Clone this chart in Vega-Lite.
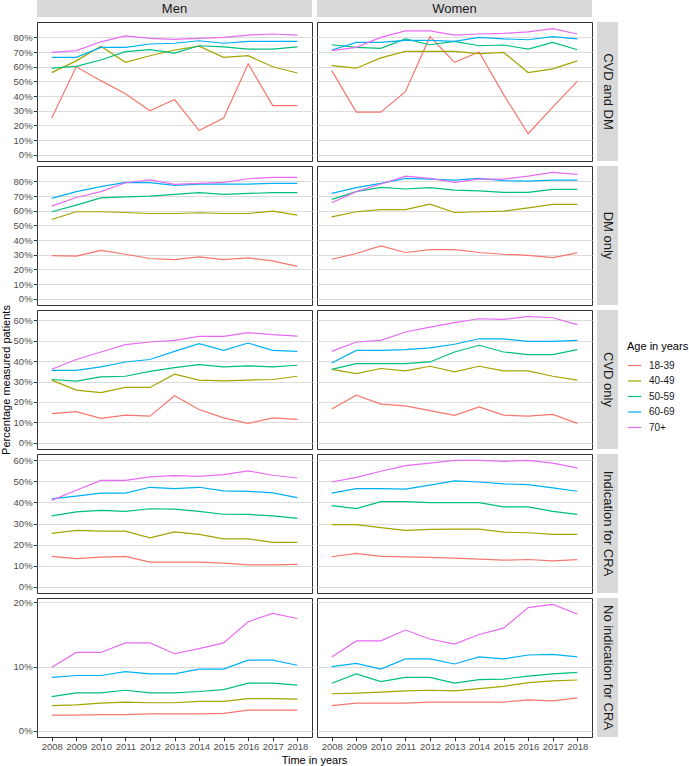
{
  "$schema": "https://vega.github.io/schema/vega-lite/v6.json",
  "padding": {"left": 0, "top": 0, "right": 0, "bottom": 0},
  "background": "white",
  "bounds": "flush",
  "align": "each",
  "columns": 3,
  "spacing": {"row": 5, "column": 5},
  "resolve": {"scale": {"color": "shared"}},
  "config": {
    "font": "Liberation Sans",
    "view": {"stroke": "#333333", "strokeWidth": 1},
    "line": {"strokeWidth": 1.2},
    "range": {"category": ["#F8766D", "#A3A500", "#00BF7D", "#00B0F6", "#E76BF3"]},
    "axis": {
      "domain": false,
      "gridColor": "#dcdcdc",
      "gridWidth": 1,
      "tickColor": "#333333",
      "tickSize": 3.7,
      "labelColor": "#4d4d4d",
      "labelFontSize": 9.5,
      "labelPadding": 1.2,
      "labelOverlap": false,
      "labelFlush": false,
      "titleColor": "#000000",
      "titleFontWeight": "normal",
      "titleFontSize": 11,
      "titlePadding": 1.5
    },
    "legend": {
      "orient": "none",
      "legendX": 590,
      "legendY": 341,
      "titleFontSize": 11,
      "titleFontWeight": "normal",
      "titleColor": "#000000",
      "titlePadding": 6,
      "labelFontSize": 10,
      "labelColor": "#1a1a1a",
      "labelOffset": 7,
      "symbolSize": 180,
      "symbolStrokeWidth": 1.3,
      "rowPadding": 2.5
    }
  },
  "datasets": {
    "m1": [
      {"age":"18-39","year":2008,"pct":25},{"age":"18-39","year":2009,"pct":60},{"age":"18-39","year":2010,"pct":50.5},{"age":"18-39","year":2011,"pct":41.5},{"age":"18-39","year":2012,"pct":30},{"age":"18-39","year":2013,"pct":37.6},{"age":"18-39","year":2014,"pct":16.5},{"age":"18-39","year":2015,"pct":25},{"age":"18-39","year":2016,"pct":62},{"age":"18-39","year":2017,"pct":33.5},{"age":"18-39","year":2018,"pct":33.5},
      {"age":"40-49","year":2008,"pct":56},{"age":"40-49","year":2009,"pct":64},{"age":"40-49","year":2010,"pct":74},{"age":"40-49","year":2011,"pct":63},{"age":"40-49","year":2012,"pct":67.5},{"age":"40-49","year":2013,"pct":71.4},{"age":"40-49","year":2014,"pct":74},{"age":"40-49","year":2015,"pct":66.4},{"age":"40-49","year":2016,"pct":67.5},{"age":"40-49","year":2017,"pct":60},{"age":"40-49","year":2018,"pct":55.7},
      {"age":"50-59","year":2008,"pct":59},{"age":"50-59","year":2009,"pct":60.3},{"age":"50-59","year":2010,"pct":64.6},{"age":"50-59","year":2011,"pct":70.3},{"age":"50-59","year":2012,"pct":71.6},{"age":"50-59","year":2013,"pct":69.3},{"age":"50-59","year":2014,"pct":74.3},{"age":"50-59","year":2015,"pct":73.6},{"age":"50-59","year":2016,"pct":72},{"age":"50-59","year":2017,"pct":72},{"age":"50-59","year":2018,"pct":73.6},
      {"age":"60-69","year":2008,"pct":66.4},{"age":"60-69","year":2009,"pct":66.4},{"age":"60-69","year":2010,"pct":73.2},{"age":"60-69","year":2011,"pct":73.2},{"age":"60-69","year":2012,"pct":75.5},{"age":"60-69","year":2013,"pct":76},{"age":"60-69","year":2014,"pct":77.7},{"age":"60-69","year":2015,"pct":76},{"age":"60-69","year":2016,"pct":77.3},{"age":"60-69","year":2017,"pct":77.3},{"age":"60-69","year":2018,"pct":77.3},
      {"age":"70+","year":2008,"pct":69.8},{"age":"70+","year":2009,"pct":71},{"age":"70+","year":2010,"pct":77},{"age":"70+","year":2011,"pct":81},{"age":"70+","year":2012,"pct":79.3},{"age":"70+","year":2013,"pct":78.6},{"age":"70+","year":2014,"pct":79.3},{"age":"70+","year":2015,"pct":80},{"age":"70+","year":2016,"pct":81.6},{"age":"70+","year":2017,"pct":82.3},{"age":"70+","year":2018,"pct":81.6}
    ],
    "w1": [
      {"age":"18-39","year":2008,"pct":57.3},{"age":"18-39","year":2009,"pct":29},{"age":"18-39","year":2010,"pct":29},{"age":"18-39","year":2011,"pct":43},{"age":"18-39","year":2012,"pct":80.5},{"age":"18-39","year":2013,"pct":63},{"age":"18-39","year":2014,"pct":70},{"age":"18-39","year":2015,"pct":41},{"age":"18-39","year":2016,"pct":14.3},{"age":"18-39","year":2017,"pct":32.4},{"age":"18-39","year":2018,"pct":50},
      {"age":"40-49","year":2008,"pct":60.7},{"age":"40-49","year":2009,"pct":59},{"age":"40-49","year":2010,"pct":66},{"age":"40-49","year":2011,"pct":70.5},{"age":"40-49","year":2012,"pct":70.5},{"age":"40-49","year":2013,"pct":70.5},{"age":"40-49","year":2014,"pct":69},{"age":"40-49","year":2015,"pct":69.8},{"age":"40-49","year":2016,"pct":56},{"age":"40-49","year":2017,"pct":58.5},{"age":"40-49","year":2018,"pct":64},
      {"age":"50-59","year":2008,"pct":75},{"age":"50-59","year":2009,"pct":73.2},{"age":"50-59","year":2010,"pct":72.5},{"age":"50-59","year":2011,"pct":79},{"age":"50-59","year":2012,"pct":75},{"age":"50-59","year":2013,"pct":77.3},{"age":"50-59","year":2014,"pct":74.3},{"age":"50-59","year":2015,"pct":74.8},{"age":"50-59","year":2016,"pct":72},{"age":"50-59","year":2017,"pct":76.6},{"age":"50-59","year":2018,"pct":71.6},
      {"age":"60-69","year":2008,"pct":71.4},{"age":"60-69","year":2009,"pct":76.6},{"age":"60-69","year":2010,"pct":76.6},{"age":"60-69","year":2011,"pct":78},{"age":"60-69","year":2012,"pct":78},{"age":"60-69","year":2013,"pct":77.3},{"age":"60-69","year":2014,"pct":80},{"age":"60-69","year":2015,"pct":79},{"age":"60-69","year":2016,"pct":78.4},{"age":"60-69","year":2017,"pct":80.5},{"age":"60-69","year":2018,"pct":79},
      {"age":"70+","year":2008,"pct":71},{"age":"70+","year":2009,"pct":73.2},{"age":"70+","year":2010,"pct":80},{"age":"70+","year":2011,"pct":84.5},{"age":"70+","year":2012,"pct":84.5},{"age":"70+","year":2013,"pct":81.6},{"age":"70+","year":2014,"pct":82.3},{"age":"70+","year":2015,"pct":82.7},{"age":"70+","year":2016,"pct":83.8},{"age":"70+","year":2017,"pct":86},{"age":"70+","year":2018,"pct":82.3}
    ],
    "m2": [
      {"age":"18-39","year":2008,"pct":29.4},{"age":"18-39","year":2009,"pct":29},{"age":"18-39","year":2010,"pct":33},{"age":"18-39","year":2011,"pct":30.3},{"age":"18-39","year":2012,"pct":27.4},{"age":"18-39","year":2013,"pct":26.7},{"age":"18-39","year":2014,"pct":28.5},{"age":"18-39","year":2015,"pct":26.7},{"age":"18-39","year":2016,"pct":27.8},{"age":"18-39","year":2017,"pct":25.8},{"age":"18-39","year":2018,"pct":22.1},
      {"age":"40-49","year":2008,"pct":54},{"age":"40-49","year":2009,"pct":59.3},{"age":"40-49","year":2010,"pct":59.3},{"age":"40-49","year":2011,"pct":58.8},{"age":"40-49","year":2012,"pct":58.1},{"age":"40-49","year":2013,"pct":58.1},{"age":"40-49","year":2014,"pct":58.6},{"age":"40-49","year":2015,"pct":58.1},{"age":"40-49","year":2016,"pct":58.1},{"age":"40-49","year":2017,"pct":59.7},{"age":"40-49","year":2018,"pct":57},
      {"age":"50-59","year":2008,"pct":59.3},{"age":"50-59","year":2009,"pct":63.8},{"age":"50-59","year":2010,"pct":68.8},{"age":"50-59","year":2011,"pct":69.5},{"age":"50-59","year":2012,"pct":70},{"age":"50-59","year":2013,"pct":71.1},{"age":"50-59","year":2014,"pct":72.3},{"age":"50-59","year":2015,"pct":71.1},{"age":"50-59","year":2016,"pct":71.8},{"age":"50-59","year":2017,"pct":72.3},{"age":"50-59","year":2018,"pct":72.3},
      {"age":"60-69","year":2008,"pct":68.4},{"age":"60-69","year":2009,"pct":73},{"age":"60-69","year":2010,"pct":76.4},{"age":"60-69","year":2011,"pct":79.3},{"age":"60-69","year":2012,"pct":79.1},{"age":"60-69","year":2013,"pct":77.3},{"age":"60-69","year":2014,"pct":78.2},{"age":"60-69","year":2015,"pct":78.2},{"age":"60-69","year":2016,"pct":78.2},{"age":"60-69","year":2017,"pct":78.6},{"age":"60-69","year":2018,"pct":78.6},
      {"age":"70+","year":2008,"pct":63.1},{"age":"70+","year":2009,"pct":69},{"age":"70+","year":2010,"pct":73},{"age":"70+","year":2011,"pct":79.1},{"age":"70+","year":2012,"pct":81},{"age":"70+","year":2013,"pct":78},{"age":"70+","year":2014,"pct":78.6},{"age":"70+","year":2015,"pct":79.3},{"age":"70+","year":2016,"pct":81.8},{"age":"70+","year":2017,"pct":82.7},{"age":"70+","year":2018,"pct":82.7}
    ],
    "w2": [
      {"age":"18-39","year":2008,"pct":26.9},{"age":"18-39","year":2009,"pct":30.8},{"age":"18-39","year":2010,"pct":36},{"age":"18-39","year":2011,"pct":31.5},{"age":"18-39","year":2012,"pct":33.5},{"age":"18-39","year":2013,"pct":33.5},{"age":"18-39","year":2014,"pct":31.5},{"age":"18-39","year":2015,"pct":30.3},{"age":"18-39","year":2016,"pct":29.6},{"age":"18-39","year":2017,"pct":28},{"age":"18-39","year":2018,"pct":31.2},
      {"age":"40-49","year":2008,"pct":55.8},{"age":"40-49","year":2009,"pct":59.3},{"age":"40-49","year":2010,"pct":60.8},{"age":"40-49","year":2011,"pct":60.8},{"age":"40-49","year":2012,"pct":64.5},{"age":"40-49","year":2013,"pct":58.8},{"age":"40-49","year":2014,"pct":59.3},{"age":"40-49","year":2015,"pct":59.7},{"age":"40-49","year":2016,"pct":62},{"age":"40-49","year":2017,"pct":64.3},{"age":"40-49","year":2018,"pct":64.3},
      {"age":"50-59","year":2008,"pct":67.7},{"age":"50-59","year":2009,"pct":73},{"age":"50-59","year":2010,"pct":75.9},{"age":"50-59","year":2011,"pct":74.8},{"age":"50-59","year":2012,"pct":75.7},{"age":"50-59","year":2013,"pct":74.1},{"age":"50-59","year":2014,"pct":73.6},{"age":"50-59","year":2015,"pct":72.5},{"age":"50-59","year":2016,"pct":72.5},{"age":"50-59","year":2017,"pct":74.5},{"age":"50-59","year":2018,"pct":74.5},
      {"age":"60-69","year":2008,"pct":71.8},{"age":"60-69","year":2009,"pct":75.7},{"age":"60-69","year":2010,"pct":78.6},{"age":"60-69","year":2011,"pct":82},{"age":"60-69","year":2012,"pct":81.6},{"age":"60-69","year":2013,"pct":80.9},{"age":"60-69","year":2014,"pct":82},{"age":"60-69","year":2015,"pct":80.5},{"age":"60-69","year":2016,"pct":80.2},{"age":"60-69","year":2017,"pct":80.9},{"age":"60-69","year":2018,"pct":80.9},
      {"age":"70+","year":2008,"pct":65.4},{"age":"70+","year":2009,"pct":73},{"age":"70+","year":2010,"pct":78.2},{"age":"70+","year":2011,"pct":83.6},{"age":"70+","year":2012,"pct":82},{"age":"70+","year":2013,"pct":79.3},{"age":"70+","year":2014,"pct":81.6},{"age":"70+","year":2015,"pct":81.6},{"age":"70+","year":2016,"pct":83.6},{"age":"70+","year":2017,"pct":86.2},{"age":"70+","year":2018,"pct":84.8}
    ],
    "m3": [
      {"age":"18-39","year":2008,"pct":14.3},{"age":"18-39","year":2009,"pct":15.2},{"age":"18-39","year":2010,"pct":11.9},{"age":"18-39","year":2011,"pct":13.5},{"age":"18-39","year":2012,"pct":13},{"age":"18-39","year":2013,"pct":23},{"age":"18-39","year":2014,"pct":16.3},{"age":"18-39","year":2015,"pct":12.2},{"age":"18-39","year":2016,"pct":9.5},{"age":"18-39","year":2017,"pct":12.2},{"age":"18-39","year":2018,"pct":11.4},
      {"age":"40-49","year":2008,"pct":30.7},{"age":"40-49","year":2009,"pct":25.8},{"age":"40-49","year":2010,"pct":24.6},{"age":"40-49","year":2011,"pct":27.1},{"age":"40-49","year":2012,"pct":27.1},{"age":"40-49","year":2013,"pct":33.6},{"age":"40-49","year":2014,"pct":30.7},{"age":"40-49","year":2015,"pct":30.3},{"age":"40-49","year":2016,"pct":30.7},{"age":"40-49","year":2017,"pct":31},{"age":"40-49","year":2018,"pct":32.6},
      {"age":"50-59","year":2008,"pct":31},{"age":"50-59","year":2009,"pct":30.2},{"age":"50-59","year":2010,"pct":32.3},{"age":"50-59","year":2011,"pct":32.6},{"age":"50-59","year":2012,"pct":35},{"age":"50-59","year":2013,"pct":36.8},{"age":"50-59","year":2014,"pct":38.3},{"age":"50-59","year":2015,"pct":37.2},{"age":"50-59","year":2016,"pct":37.7},{"age":"50-59","year":2017,"pct":37.2},{"age":"50-59","year":2018,"pct":38},
      {"age":"60-69","year":2008,"pct":35.5},{"age":"60-69","year":2009,"pct":35.5},{"age":"60-69","year":2010,"pct":37.2},{"age":"60-69","year":2011,"pct":39.6},{"age":"60-69","year":2012,"pct":40.8},{"age":"60-69","year":2013,"pct":44.8},{"age":"60-69","year":2014,"pct":48.6},{"age":"60-69","year":2015,"pct":45.3},{"age":"60-69","year":2016,"pct":48.9},{"age":"60-69","year":2017,"pct":45.3},{"age":"60-69","year":2018,"pct":44.8},
      {"age":"70+","year":2008,"pct":36},{"age":"70+","year":2009,"pct":40.8},{"age":"70+","year":2010,"pct":44.5},{"age":"70+","year":2011,"pct":48.1},{"age":"70+","year":2012,"pct":49.4},{"age":"70+","year":2013,"pct":50.2},{"age":"70+","year":2014,"pct":52.2},{"age":"70+","year":2015,"pct":52.2},{"age":"70+","year":2016,"pct":54},{"age":"70+","year":2017,"pct":53},{"age":"70+","year":2018,"pct":52.3}
    ],
    "w3": [
      {"age":"18-39","year":2008,"pct":16.5},{"age":"18-39","year":2009,"pct":23.3},{"age":"18-39","year":2010,"pct":18.9},{"age":"18-39","year":2011,"pct":18.1},{"age":"18-39","year":2012,"pct":15.7},{"age":"18-39","year":2013,"pct":13.4},{"age":"18-39","year":2014,"pct":17.6},{"age":"18-39","year":2015,"pct":13.5},{"age":"18-39","year":2016,"pct":13},{"age":"18-39","year":2017,"pct":13.9},{"age":"18-39","year":2018,"pct":9.5},
      {"age":"40-49","year":2008,"pct":36},{"age":"40-49","year":2009,"pct":33.9},{"age":"40-49","year":2010,"pct":36.4},{"age":"40-49","year":2011,"pct":35.2},{"age":"40-49","year":2012,"pct":37.5},{"age":"40-49","year":2013,"pct":34.7},{"age":"40-49","year":2014,"pct":37.5},{"age":"40-49","year":2015,"pct":35.2},{"age":"40-49","year":2016,"pct":35.2},{"age":"40-49","year":2017,"pct":32.6},{"age":"40-49","year":2018,"pct":30.7},
      {"age":"50-59","year":2008,"pct":36},{"age":"50-59","year":2009,"pct":38.8},{"age":"50-59","year":2010,"pct":38.8},{"age":"50-59","year":2011,"pct":38.8},{"age":"50-59","year":2012,"pct":39.6},{"age":"50-59","year":2013,"pct":44.5},{"age":"50-59","year":2014,"pct":47.8},{"age":"50-59","year":2015,"pct":44.5},{"age":"50-59","year":2016,"pct":43.2},{"age":"50-59","year":2017,"pct":43.2},{"age":"50-59","year":2018,"pct":45.7},
      {"age":"60-69","year":2008,"pct":39.1},{"age":"60-69","year":2009,"pct":45.3},{"age":"60-69","year":2010,"pct":45.3},{"age":"60-69","year":2011,"pct":45.7},{"age":"60-69","year":2012,"pct":46.5},{"age":"60-69","year":2013,"pct":48.3},{"age":"60-69","year":2014,"pct":51},{"age":"60-69","year":2015,"pct":50.9},{"age":"60-69","year":2016,"pct":49.7},{"age":"60-69","year":2017,"pct":49.7},{"age":"60-69","year":2018,"pct":50.2},
      {"age":"70+","year":2008,"pct":44.8},{"age":"70+","year":2009,"pct":49.4},{"age":"70+","year":2010,"pct":50.2},{"age":"70+","year":2011,"pct":54.3},{"age":"70+","year":2012,"pct":56.7},{"age":"70+","year":2013,"pct":58.9},{"age":"70+","year":2014,"pct":60.8},{"age":"70+","year":2015,"pct":60.5},{"age":"70+","year":2016,"pct":62},{"age":"70+","year":2017,"pct":61.3},{"age":"70+","year":2018,"pct":57.9}
    ],
    "m4": [
      {"age":"18-39","year":2008,"pct":14.4},{"age":"18-39","year":2009,"pct":13.3},{"age":"18-39","year":2010,"pct":14},{"age":"18-39","year":2011,"pct":14.4},{"age":"18-39","year":2012,"pct":11.7},{"age":"18-39","year":2013,"pct":11.7},{"age":"18-39","year":2014,"pct":11.7},{"age":"18-39","year":2015,"pct":11.2},{"age":"18-39","year":2016,"pct":10.4},{"age":"18-39","year":2017,"pct":10.4},{"age":"18-39","year":2018,"pct":10.6},
      {"age":"40-49","year":2008,"pct":25.3},{"age":"40-49","year":2009,"pct":26.7},{"age":"40-49","year":2010,"pct":26.4},{"age":"40-49","year":2011,"pct":26.4},{"age":"40-49","year":2012,"pct":23.2},{"age":"40-49","year":2013,"pct":26},{"age":"40-49","year":2014,"pct":24.8},{"age":"40-49","year":2015,"pct":22.7},{"age":"40-49","year":2016,"pct":22.7},{"age":"40-49","year":2017,"pct":21},{"age":"40-49","year":2018,"pct":21},
      {"age":"50-59","year":2008,"pct":33.6},{"age":"50-59","year":2009,"pct":35.5},{"age":"50-59","year":2010,"pct":36.2},{"age":"50-59","year":2011,"pct":35.8},{"age":"50-59","year":2012,"pct":37},{"age":"50-59","year":2013,"pct":36.8},{"age":"50-59","year":2014,"pct":35.8},{"age":"50-59","year":2015,"pct":34.4},{"age":"50-59","year":2016,"pct":34.3},{"age":"50-59","year":2017,"pct":33.6},{"age":"50-59","year":2018,"pct":32.4},
      {"age":"60-69","year":2008,"pct":41.7},{"age":"60-69","year":2009,"pct":43},{"age":"60-69","year":2010,"pct":44.4},{"age":"60-69","year":2011,"pct":44.4},{"age":"60-69","year":2012,"pct":47.2},{"age":"60-69","year":2013,"pct":46.6},{"age":"60-69","year":2014,"pct":47.2},{"age":"60-69","year":2015,"pct":45.5},{"age":"60-69","year":2016,"pct":45.3},{"age":"60-69","year":2017,"pct":44.5},{"age":"60-69","year":2018,"pct":42.3},
      {"age":"70+","year":2008,"pct":41},{"age":"70+","year":2009,"pct":45.8},{"age":"70+","year":2010,"pct":50.5},{"age":"70+","year":2011,"pct":50.5},{"age":"70+","year":2012,"pct":52.1},{"age":"70+","year":2013,"pct":52.7},{"age":"70+","year":2014,"pct":52.4},{"age":"70+","year":2015,"pct":53.2},{"age":"70+","year":2016,"pct":55},{"age":"70+","year":2017,"pct":52.9},{"age":"70+","year":2018,"pct":51.6}
    ],
    "w4": [
      {"age":"18-39","year":2008,"pct":14.2},{"age":"18-39","year":2009,"pct":15.8},{"age":"18-39","year":2010,"pct":14.4},{"age":"18-39","year":2011,"pct":14.2},{"age":"18-39","year":2012,"pct":13.9},{"age":"18-39","year":2013,"pct":13.6},{"age":"18-39","year":2014,"pct":13.1},{"age":"18-39","year":2015,"pct":12.6},{"age":"18-39","year":2016,"pct":12.9},{"age":"18-39","year":2017,"pct":12.3},{"age":"18-39","year":2018,"pct":12.8},
      {"age":"40-49","year":2008,"pct":29.5},{"age":"40-49","year":2009,"pct":29.5},{"age":"40-49","year":2010,"pct":28},{"age":"40-49","year":2011,"pct":26.7},{"age":"40-49","year":2012,"pct":27.2},{"age":"40-49","year":2013,"pct":27.3},{"age":"40-49","year":2014,"pct":27.3},{"age":"40-49","year":2015,"pct":25.9},{"age":"40-49","year":2016,"pct":25.6},{"age":"40-49","year":2017,"pct":24.8},{"age":"40-49","year":2018,"pct":24.8},
      {"age":"50-59","year":2008,"pct":38.5},{"age":"50-59","year":2009,"pct":37.1},{"age":"50-59","year":2010,"pct":40.4},{"age":"50-59","year":2011,"pct":40.4},{"age":"50-59","year":2012,"pct":39.9},{"age":"50-59","year":2013,"pct":39.9},{"age":"50-59","year":2014,"pct":39.9},{"age":"50-59","year":2015,"pct":37.9},{"age":"50-59","year":2016,"pct":37.9},{"age":"50-59","year":2017,"pct":35.8},{"age":"50-59","year":2018,"pct":34.3},
      {"age":"60-69","year":2008,"pct":44.4},{"age":"60-69","year":2009,"pct":46.6},{"age":"60-69","year":2010,"pct":46.6},{"age":"60-69","year":2011,"pct":46.3},{"age":"60-69","year":2012,"pct":48.2},{"age":"60-69","year":2013,"pct":50.2},{"age":"60-69","year":2014,"pct":49.7},{"age":"60-69","year":2015,"pct":48.8},{"age":"60-69","year":2016,"pct":48.5},{"age":"60-69","year":2017,"pct":46.9},{"age":"60-69","year":2018,"pct":45.3},
      {"age":"70+","year":2008,"pct":49.7},{"age":"70+","year":2009,"pct":51.9},{"age":"70+","year":2010,"pct":54.8},{"age":"70+","year":2011,"pct":57.5},{"age":"70+","year":2012,"pct":58.7},{"age":"70+","year":2013,"pct":60},{"age":"70+","year":2014,"pct":60},{"age":"70+","year":2015,"pct":59.5},{"age":"70+","year":2016,"pct":60},{"age":"70+","year":2017,"pct":58.7},{"age":"70+","year":2018,"pct":56.4}
    ],
    "m5": [
      {"age":"18-39","year":2008,"pct":2.4},{"age":"18-39","year":2009,"pct":2.4},{"age":"18-39","year":2010,"pct":2.5},{"age":"18-39","year":2011,"pct":2.5},{"age":"18-39","year":2012,"pct":2.6},{"age":"18-39","year":2013,"pct":2.6},{"age":"18-39","year":2014,"pct":2.6},{"age":"18-39","year":2015,"pct":2.7},{"age":"18-39","year":2016,"pct":3.2},{"age":"18-39","year":2017,"pct":3.2},{"age":"18-39","year":2018,"pct":3.2},
      {"age":"40-49","year":2008,"pct":3.9},{"age":"40-49","year":2009,"pct":4},{"age":"40-49","year":2010,"pct":4.3},{"age":"40-49","year":2011,"pct":4.45},{"age":"40-49","year":2012,"pct":4.35},{"age":"40-49","year":2013,"pct":4.35},{"age":"40-49","year":2014,"pct":4.55},{"age":"40-49","year":2015,"pct":4.55},{"age":"40-49","year":2016,"pct":5},{"age":"40-49","year":2017,"pct":5},{"age":"40-49","year":2018,"pct":4.9},
      {"age":"50-59","year":2008,"pct":5.3},{"age":"50-59","year":2009,"pct":5.9},{"age":"50-59","year":2010,"pct":5.9},{"age":"50-59","year":2011,"pct":6.3},{"age":"50-59","year":2012,"pct":5.9},{"age":"50-59","year":2013,"pct":5.9},{"age":"50-59","year":2014,"pct":6.1},{"age":"50-59","year":2015,"pct":6.4},{"age":"50-59","year":2016,"pct":7.4},{"age":"50-59","year":2017,"pct":7.4},{"age":"50-59","year":2018,"pct":7.1},
      {"age":"60-69","year":2008,"pct":8.3},{"age":"60-69","year":2009,"pct":8.6},{"age":"60-69","year":2010,"pct":8.6},{"age":"60-69","year":2011,"pct":9.2},{"age":"60-69","year":2012,"pct":8.85},{"age":"60-69","year":2013,"pct":8.85},{"age":"60-69","year":2014,"pct":9.6},{"age":"60-69","year":2015,"pct":9.6},{"age":"60-69","year":2016,"pct":11},{"age":"60-69","year":2017,"pct":11},{"age":"60-69","year":2018,"pct":10.2},
      {"age":"70+","year":2008,"pct":9.9},{"age":"70+","year":2009,"pct":12.2},{"age":"70+","year":2010,"pct":12.2},{"age":"70+","year":2011,"pct":13.7},{"age":"70+","year":2012,"pct":13.7},{"age":"70+","year":2013,"pct":12},{"age":"70+","year":2014,"pct":12.8},{"age":"70+","year":2015,"pct":13.7},{"age":"70+","year":2016,"pct":17},{"age":"70+","year":2017,"pct":18.3},{"age":"70+","year":2018,"pct":17.5}
    ],
    "w5": [
      {"age":"18-39","year":2008,"pct":3.9},{"age":"18-39","year":2009,"pct":4.3},{"age":"18-39","year":2010,"pct":4.3},{"age":"18-39","year":2011,"pct":4.3},{"age":"18-39","year":2012,"pct":4.45},{"age":"18-39","year":2013,"pct":4.45},{"age":"18-39","year":2014,"pct":4.45},{"age":"18-39","year":2015,"pct":4.45},{"age":"18-39","year":2016,"pct":4.8},{"age":"18-39","year":2017,"pct":4.65},{"age":"18-39","year":2018,"pct":5.1},
      {"age":"40-49","year":2008,"pct":5.75},{"age":"40-49","year":2009,"pct":5.85},{"age":"40-49","year":2010,"pct":6},{"age":"40-49","year":2011,"pct":6.2},{"age":"40-49","year":2012,"pct":6.3},{"age":"40-49","year":2013,"pct":6.2},{"age":"40-49","year":2014,"pct":6.55},{"age":"40-49","year":2015,"pct":6.9},{"age":"40-49","year":2016,"pct":7.5},{"age":"40-49","year":2017,"pct":7.75},{"age":"40-49","year":2018,"pct":7.9},
      {"age":"50-59","year":2008,"pct":7.4},{"age":"50-59","year":2009,"pct":8.85},{"age":"50-59","year":2010,"pct":7.65},{"age":"50-59","year":2011,"pct":8.3},{"age":"50-59","year":2012,"pct":8.3},{"age":"50-59","year":2013,"pct":7.4},{"age":"50-59","year":2014,"pct":7.95},{"age":"50-59","year":2015,"pct":8.05},{"age":"50-59","year":2016,"pct":8.5},{"age":"50-59","year":2017,"pct":8.85},{"age":"50-59","year":2018,"pct":9.1},
      {"age":"60-69","year":2008,"pct":10},{"age":"60-69","year":2009,"pct":10.5},{"age":"60-69","year":2010,"pct":9.6},{"age":"60-69","year":2011,"pct":11.2},{"age":"60-69","year":2012,"pct":11.2},{"age":"60-69","year":2013,"pct":10.4},{"age":"60-69","year":2014,"pct":11.5},{"age":"60-69","year":2015,"pct":11.2},{"age":"60-69","year":2016,"pct":11.8},{"age":"60-69","year":2017,"pct":11.9},{"age":"60-69","year":2018,"pct":11.5},
      {"age":"70+","year":2008,"pct":11.5},{"age":"70+","year":2009,"pct":14},{"age":"70+","year":2010,"pct":14},{"age":"70+","year":2011,"pct":15.7},{"age":"70+","year":2012,"pct":14.3},{"age":"70+","year":2013,"pct":13.5},{"age":"70+","year":2014,"pct":15},{"age":"70+","year":2015,"pct":16},{"age":"70+","year":2016,"pct":19.2},{"age":"70+","year":2017,"pct":19.7},{"age":"70+","year":2018,"pct":18.2}
    ]
  },
  "concat": [
    {"width": 275, "height": 17, "data": {"values": [{"label": "Men"}]}, "view": {"fill": "#d9d9d9", "stroke": null}, "mark": {"type": "text", "fontSize": 13, "color": "#1a1a1a", "baseline": "middle"}, "encoding": {"text": {"field": "label"}}},
    {"width": 275, "height": 17, "data": {"values": [{"label": "Women"}]}, "view": {"fill": "#d9d9d9", "stroke": null}, "mark": {"type": "text", "fontSize": 13, "color": "#1a1a1a", "baseline": "middle"}, "encoding": {"text": {"field": "label"}}},
    {"width": 21, "height": 17, "data": {"values": []}, "view": {"stroke": null}, "mark": "text", "encoding": {}},

    {"width": 275, "height": 139, "data": {"name": "m1"}, "mark": "line",
     "encoding": {
       "x": {"field": "year", "type": "quantitative", "scale": {"domain": [2007.4, 2018.6], "nice": false, "zero": false}, "axis": null},
       "y": {"field": "pct", "type": "quantitative", "scale": {"domain": [-4.3, 90.5], "nice": false, "zero": false}, "axis": {"values": [0, 10, 20, 30, 40, 50, 60, 70, 80], "labelExpr": "datum.value + '%'", "title": null}},
       "color": {"field": "age", "type": "nominal", "title": "Age in years"}}},
    {"width": 275, "height": 139, "data": {"name": "w1"}, "mark": "line",
     "encoding": {
       "x": {"field": "year", "type": "quantitative", "scale": {"domain": [2007.4, 2018.6], "nice": false, "zero": false}, "axis": null},
       "y": {"field": "pct", "type": "quantitative", "scale": {"domain": [-4.3, 90.5], "nice": false, "zero": false}, "axis": {"values": [0, 10, 20, 30, 40, 50, 60, 70, 80], "labels": false, "ticks": false, "title": null}},
       "color": {"field": "age", "type": "nominal", "title": "Age in years"}}},
    {"width": 21, "height": 139, "data": {"values": [{"label": "CVD and DM"}]}, "view": {"fill": "#d9d9d9", "stroke": null}, "mark": {"type": "text", "fontSize": 13, "color": "#1a1a1a", "angle": 90, "baseline": "middle"}, "encoding": {"text": {"field": "label"}}},

    {"width": 275, "height": 139, "data": {"name": "m2"}, "mark": "line",
     "encoding": {
       "x": {"field": "year", "type": "quantitative", "scale": {"domain": [2007.4, 2018.6], "nice": false, "zero": false}, "axis": null},
       "y": {"field": "pct", "type": "quantitative", "scale": {"domain": [-4.3, 90.5], "nice": false, "zero": false}, "axis": {"values": [0, 10, 20, 30, 40, 50, 60, 70, 80], "labelExpr": "datum.value + '%'", "title": null}},
       "color": {"field": "age", "type": "nominal", "title": "Age in years"}}},
    {"width": 275, "height": 139, "data": {"name": "w2"}, "mark": "line",
     "encoding": {
       "x": {"field": "year", "type": "quantitative", "scale": {"domain": [2007.4, 2018.6], "nice": false, "zero": false}, "axis": null},
       "y": {"field": "pct", "type": "quantitative", "scale": {"domain": [-4.3, 90.5], "nice": false, "zero": false}, "axis": {"values": [0, 10, 20, 30, 40, 50, 60, 70, 80], "labels": false, "ticks": false, "title": null}},
       "color": {"field": "age", "type": "nominal", "title": "Age in years"}}},
    {"width": 21, "height": 139, "data": {"values": [{"label": "DM only"}]}, "view": {"fill": "#d9d9d9", "stroke": null}, "mark": {"type": "text", "fontSize": 13, "color": "#1a1a1a", "angle": 90, "baseline": "middle"}, "encoding": {"text": {"field": "label"}}},

    {"width": 275, "height": 139, "data": {"name": "m3"}, "mark": "line",
     "encoding": {
       "x": {"field": "year", "type": "quantitative", "scale": {"domain": [2007.4, 2018.6], "nice": false, "zero": false}, "axis": null},
       "y": {"field": "pct", "type": "quantitative", "scale": {"domain": [-3.1, 65.1], "nice": false, "zero": false}, "axis": {"values": [0, 10, 20, 30, 40, 50, 60], "labelExpr": "datum.value + '%'", "title": "Percentage measured patients"}},
       "color": {"field": "age", "type": "nominal", "title": "Age in years"}}},
    {"width": 275, "height": 139, "data": {"name": "w3"}, "mark": "line",
     "encoding": {
       "x": {"field": "year", "type": "quantitative", "scale": {"domain": [2007.4, 2018.6], "nice": false, "zero": false}, "axis": null},
       "y": {"field": "pct", "type": "quantitative", "scale": {"domain": [-3.1, 65.1], "nice": false, "zero": false}, "axis": {"values": [0, 10, 20, 30, 40, 50, 60], "labels": false, "ticks": false, "title": null}},
       "color": {"field": "age", "type": "nominal", "title": "Age in years"}}},
    {"width": 21, "height": 139, "data": {"values": [{"label": "CVD only"}]}, "view": {"fill": "#d9d9d9", "stroke": null}, "mark": {"type": "text", "fontSize": 13, "color": "#1a1a1a", "angle": 90, "baseline": "middle"}, "encoding": {"text": {"field": "label"}}},

    {"width": 275, "height": 139, "data": {"name": "m4"}, "mark": "line",
     "encoding": {
       "x": {"field": "year", "type": "quantitative", "scale": {"domain": [2007.4, 2018.6], "nice": false, "zero": false}, "axis": null},
       "y": {"field": "pct", "type": "quantitative", "scale": {"domain": [-3, 63], "nice": false, "zero": false}, "axis": {"values": [0, 10, 20, 30, 40, 50, 60], "labelExpr": "datum.value + '%'", "title": null}},
       "color": {"field": "age", "type": "nominal", "title": "Age in years"}}},
    {"width": 275, "height": 139, "data": {"name": "w4"}, "mark": "line",
     "encoding": {
       "x": {"field": "year", "type": "quantitative", "scale": {"domain": [2007.4, 2018.6], "nice": false, "zero": false}, "axis": null},
       "y": {"field": "pct", "type": "quantitative", "scale": {"domain": [-3, 63], "nice": false, "zero": false}, "axis": {"values": [0, 10, 20, 30, 40, 50, 60], "labels": false, "ticks": false, "title": null}},
       "color": {"field": "age", "type": "nominal", "title": "Age in years"}}},
    {"width": 21, "height": 139, "data": {"values": [{"label": "Indication for CRA"}]}, "view": {"fill": "#d9d9d9", "stroke": null}, "mark": {"type": "text", "fontSize": 13, "color": "#1a1a1a", "angle": 90, "baseline": "middle"}, "encoding": {"text": {"field": "label"}}},

    {"width": 275, "height": 139, "data": {"name": "m5"}, "mark": "line",
     "encoding": {
       "x": {"field": "year", "type": "quantitative", "scale": {"domain": [2007.4, 2018.6], "nice": false, "zero": false}, "axis": {"values": [2008, 2009, 2010, 2011, 2012, 2013, 2014, 2015, 2016, 2017, 2018], "format": "d", "grid": false, "title": "Time in years", "titleX": 277, "titleAlign": "center", "titlePadding": 3}},
       "y": {"field": "pct", "type": "quantitative", "scale": {"domain": [-1, 20.7], "nice": false, "zero": false}, "axis": {"values": [0, 10, 20], "labelExpr": "datum.value + '%'", "title": null}},
       "color": {"field": "age", "type": "nominal", "title": "Age in years"}}},
    {"width": 275, "height": 139, "data": {"name": "w5"}, "mark": "line",
     "encoding": {
       "x": {"field": "year", "type": "quantitative", "scale": {"domain": [2007.4, 2018.6], "nice": false, "zero": false}, "axis": {"values": [2008, 2009, 2010, 2011, 2012, 2013, 2014, 2015, 2016, 2017, 2018], "format": "d", "grid": false, "title": null}},
       "y": {"field": "pct", "type": "quantitative", "scale": {"domain": [-1, 20.7], "nice": false, "zero": false}, "axis": {"values": [0, 10, 20], "labels": false, "ticks": false, "title": null}},
       "color": {"field": "age", "type": "nominal", "title": "Age in years"}}},
    {"width": 21, "height": 139, "data": {"values": [{"label": "No indication for CRA"}]}, "view": {"fill": "#d9d9d9", "stroke": null}, "mark": {"type": "text", "fontSize": 13, "color": "#1a1a1a", "angle": 90, "baseline": "middle"}, "encoding": {"text": {"field": "label"}}}
  ]
}
